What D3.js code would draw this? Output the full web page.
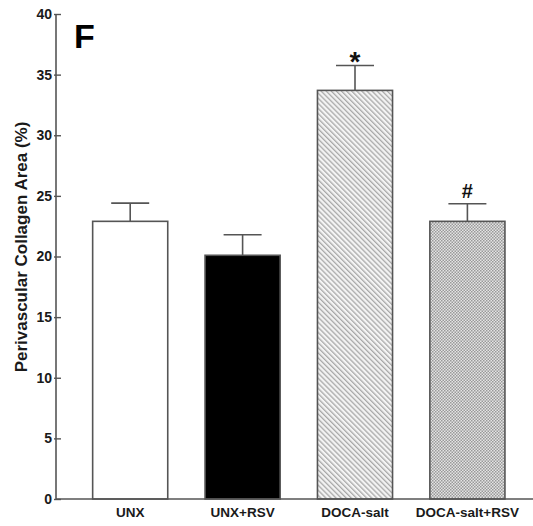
<!DOCTYPE html>
<html><head><meta charset="utf-8">
<script src="https://cdn.jsdelivr.net/npm/d3@7"></script>
<style>body{margin:0;background:#fff}svg{display:block}</style>
</head><body>
<svg id="c" width="533" height="526"></svg>
<script>
const categories = ["UNX", "UNX+RSV", "DOCA-salt", "DOCA-salt+RSV"];
const means = [22.9, 20.1, 33.7, 22.9];
const errors = [1.5, 1.7, 2.05, 1.45];
const marks = ["", "", "*", "#"];
const yTicks = [0, 5, 10, 15, 20, 25, 30, 35, 40];

const svg = d3.select("#c");
const font = "'Liberation Sans', Arial, sans-serif";
const axisColor = "#555";

const y = d3.scaleLinear().domain([0, 40]).range([499, 14]);
const x = d3.scaleBand().domain(categories).range([74, 523.6]).paddingInner(0.332).paddingOuter(0.166);

const defs = svg.append("defs");
const hatch = defs.append("pattern").attr("id", "hatch").attr("patternUnits", "userSpaceOnUse")
  .attr("width", 3.6).attr("height", 3.6).attr("patternTransform", "rotate(-45)");
hatch.append("rect").attr("width", 3.6).attr("height", 3.6).attr("fill", "#f4f4f4");
hatch.append("rect").attr("width", 1.3).attr("height", 3.6).attr("fill", "#a8a8a8");

const check = defs.append("pattern").attr("id", "check").attr("patternUnits", "userSpaceOnUse")
  .attr("width", 3).attr("height", 3);
check.append("rect").attr("width", 3).attr("height", 3).attr("fill", "#e4e4e4");
check.append("rect").attr("width", 1.5).attr("height", 1.5).attr("fill", "#999");
check.append("rect").attr("x", 1.5).attr("y", 1.5).attr("width", 1.5).attr("height", 1.5).attr("fill", "#999");

const fills = ["#fff", "#000", "url(#hatch)", "url(#check)"];

// error bars (behind bars)
const g = svg.append("g");
categories.forEach((c, i) => {
  const cx = x(c) + x.bandwidth() / 2;
  const top = y(means[i] + errors[i]);
  g.append("line").attr("x1", cx).attr("x2", cx).attr("y1", y(means[i])).attr("y2", top)
    .attr("stroke", axisColor).attr("stroke-width", 1.6);
  g.append("line").attr("x1", cx - 19).attr("x2", cx + 19).attr("y1", top).attr("y2", top)
    .attr("stroke", axisColor).attr("stroke-width", 1.6);
  if (marks[i] === "*") {
    g.append("text").attr("x", cx).attr("y", top + 5.2)
      .attr("text-anchor", "middle").attr("font-family", font).attr("font-weight", "bold")
      .attr("font-size", 28).attr("fill", "#111").text(marks[i]);
  } else if (marks[i]) {
    g.append("text").attr("x", cx).attr("y", top - 5.4)
      .attr("text-anchor", "middle").attr("font-family", font).attr("font-weight", "bold")
      .attr("font-size", 20).attr("fill", "#111").text(marks[i]);
  }
});

svg.append("g").selectAll("rect").data(categories).join("rect")
  .attr("x", d => x(d)).attr("width", x.bandwidth())
  .attr("y", (d, i) => y(means[i])).attr("height", (d, i) => y(0) - y(means[i]))
  .attr("fill", (d, i) => fills[i]).attr("stroke", axisColor).attr("stroke-width", 1.6);

// y axis
const yAxis = svg.append("g").attr("transform", "translate(56,0)")
  .call(d3.axisLeft(y).tickValues(yTicks).tickSize(0).tickPadding(4));
yAxis.select(".domain").remove();
yAxis.selectAll(".tick text").attr("font-family", font).attr("font-weight", "bold").attr("font-size", 14).attr("fill", "#1a1a1a");
yAxis.selectAll(".tick").append("line").attr("x1", -2).attr("x2", 5).attr("stroke", axisColor).attr("stroke-width", 1.4);
svg.append("line").attr("x1", 56).attr("x2", 56).attr("y1", y(40)).attr("y2", y(0)).attr("stroke", axisColor).attr("stroke-width", 1.6);
svg.append("line").attr("x1", 56).attr("x2", 533).attr("y1", y(0)).attr("y2", y(0)).attr("stroke", axisColor).attr("stroke-width", 1.6);

// x labels
svg.append("g").selectAll("text").data(categories).join("text")
  .attr("x", d => x(d) + x.bandwidth() / 2).attr("y", 517)
  .attr("text-anchor", "middle").attr("font-family", font).attr("font-weight", "bold")
  .attr("font-size", 13.5).attr("fill", "#1a1a1a").text(d => d);

// y label
svg.append("text").attr("transform", "translate(27,247) rotate(-90)")
  .attr("text-anchor", "middle").attr("font-family", font).attr("font-weight", "bold")
  .attr("font-size", 17).attr("fill", "#1a1a1a").text("Perivascular Collagen Area (%)");

// panel letter
svg.append("text").attr("x", 74).attr("y", 47.5).attr("font-family", font).attr("font-weight", "bold")
  .attr("font-size", 34).attr("fill", "#000").text("F");
</script>
</body></html>
